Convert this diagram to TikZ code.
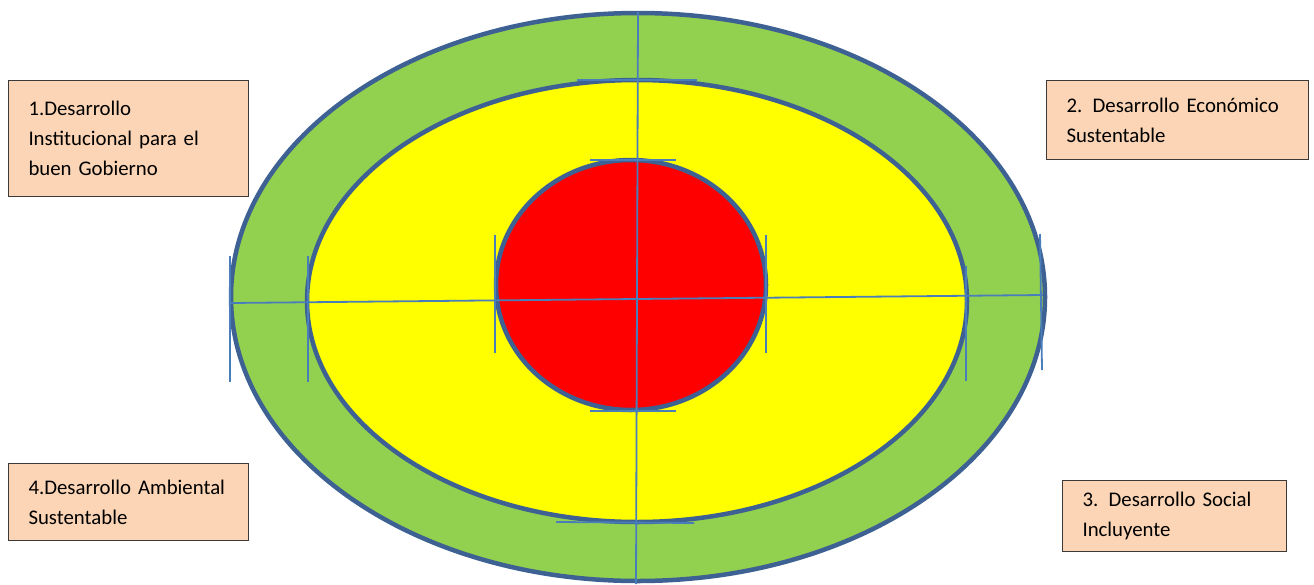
\documentclass[tikz,border=0pt]{standalone}
\usepackage{fontspec}
\setmainfont{Carlito}
\definecolor{rim}{HTML}{3E6193}
\definecolor{axis}{HTML}{4A7EBB}
\definecolor{ringgreen}{HTML}{92D050}
\definecolor{ringyellow}{HTML}{FFFF00}
\definecolor{ringred}{HTML}{FF0000}
\definecolor{peach}{HTML}{FBD5B5}
\definecolor{boxline}{HTML}{3A3A3A}
\begin{document}
\begin{tikzpicture}[x=1pt,y=-1pt,
  ring/.style={draw=rim,line width=4.5pt},
  axisline/.style={draw=axis,line width=1.8pt},
  tick/.style={draw=axis,line width=1.8pt},
  label/.style={draw=boxline,line width=1pt,fill=peach,inner xsep=20pt,inner ysep=0pt,
    align=left,anchor=north west,font=\fontsize{20.8}{30}\selectfont}]
\useasboundingbox (0,0) rectangle (1314,584);
% rings
\path[ring,fill=ringgreen] (638,297) ellipse [x radius=407,y radius=284];
\path[ring,fill=ringyellow] (637,301) ellipse [x radius=330,y radius=221];
\path[ring,fill=ringred] (631,285) ellipse [x radius=135,y radius=125];
% axes
\coordinate (top) at (638,12);
\coordinate (bot) at (636,584);
\coordinate (lft) at (230,303);
\coordinate (rgt) at (1043,295);
\draw[axisline] (top) -- (bot);
\draw[axisline] (lft) -- (rgt);
% ticks
\coordinate (t1a) at (577,80); \coordinate (t1b) at (697,80);
\coordinate (t2a) at (590,160); \coordinate (t2b) at (676,160);
\coordinate (t3a) at (590,411); \coordinate (t3b) at (676,411);
\coordinate (t4a) at (556,522); \coordinate (t4b) at (694,523);
\coordinate (v1a) at (230,256); \coordinate (v1b) at (230,382);
\coordinate (v2a) at (308,256); \coordinate (v2b) at (308,382);
\coordinate (v3a) at (495,235); \coordinate (v3b) at (495,353);
\coordinate (v4a) at (766,235); \coordinate (v4b) at (766,353);
\coordinate (v5a) at (966,266); \coordinate (v5b) at (966,381);
\coordinate (v6a) at (1040,234); \coordinate (v6b) at (1042,370);
\foreach \t in {t1,t2,t3,t4,v1,v2,v3,v4,v5,v6} \draw[tick] (\t a) -- (\t b);
% boxes
\node[label,text width=200pt,minimum height=116pt] (b1) at (8,80)
  {1.Desarrollo\\Institucional para el\\buen Gobierno};
\node[label,text width=222pt,minimum height=79pt] (b2) at (1046,80)
  {2. Desarrollo Económico\\Sustentable};
\node[label,text width=184pt,minimum height=71pt] (b3) at (1062,480)
  {3. Desarrollo Social\\Incluyente};
\node[label,text width=200pt,minimum height=77pt] (b4) at (8,463)
  {4.Desarrollo Ambiental\\Sustentable};
\end{tikzpicture}
\end{document}
